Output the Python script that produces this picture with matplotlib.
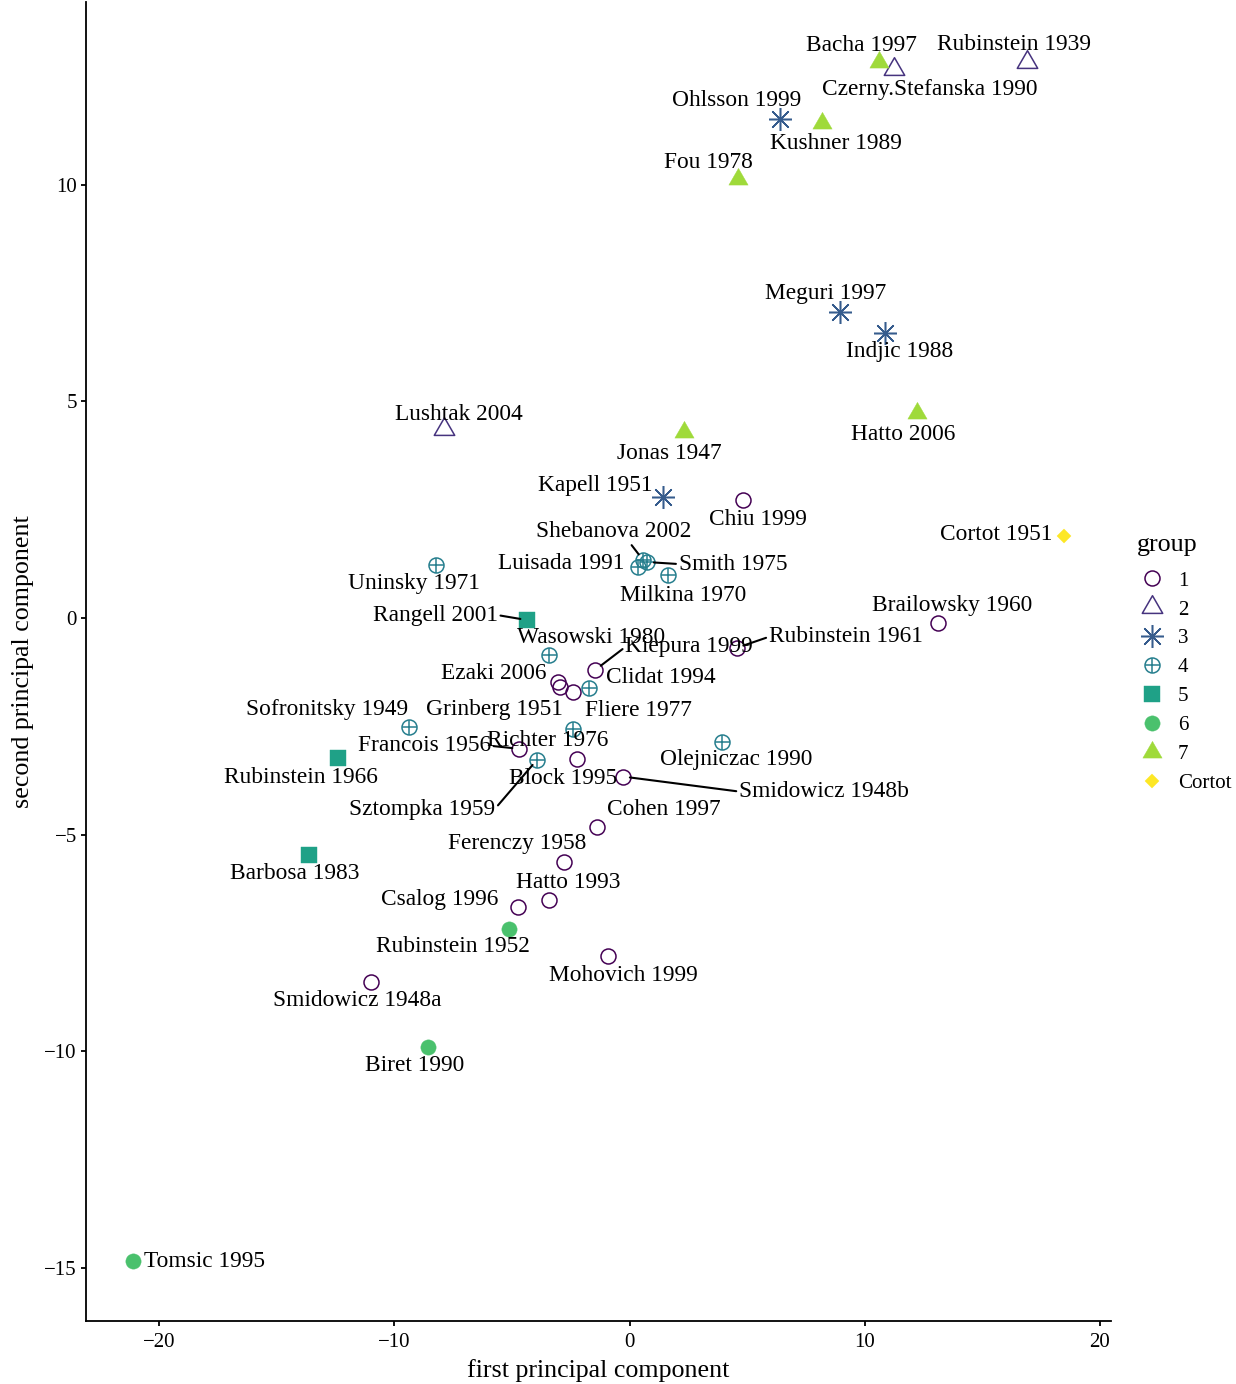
import matplotlib
matplotlib.use("Agg")
import matplotlib.pyplot as plt
from matplotlib.lines import Line2D
from matplotlib.path import Path
import numpy as np

plt.rcParams['font.family'] = ['Liberation Serif', 'DejaVu Serif']

# ---------------- data ----------------
performers = [
    "Bacha 1997", "Rubinstein 1939", "Czerny.Stefanska 1990", "Ohlsson 1999",
    "Kushner 1989", "Fou 1978", "Meguri 1997", "Indjic 1988", "Lushtak 2004",
    "Hatto 2006", "Jonas 1947", "Kapell 1951", "Chiu 1999", "Cortot 1951",
    "Shebanova 2002", "Luisada 1991", "Smith 1975", "Milkina 1970",
    "Uninsky 1971", "Brailowsky 1960", "Rangell 2001", "Wasowski 1980",
    "Kiepura 1999", "Rubinstein 1961", "Ezaki 2006", "Clidat 1994",
    "Sofronitsky 1949", "Grinberg 1951", "Fliere 1977", "Francois 1956",
    "Richter 1976", "Rubinstein 1966", "Olejniczac 1990", "Block 1995",
    "Smidowicz 1948b", "Sztompka 1959", "Cohen 1997", "Ferenczy 1958",
    "Barbosa 1983", "Hatto 1993", "Csalog 1996", "Rubinstein 1952",
    "Mohovich 1999", "Smidowicz 1948a", "Biret 1990", "Tomsic 1995",
]
group = [
    "7", "2", "2", "3",
    "7", "7", "3", "3", "2",
    "7", "7", "3", "1", "Cortot",
    "4", "4", "4", "4",
    "4", "1", "5", "4",
    "1", "1", "1", "4",
    "4", "1", "1", "1",
    "4", "5", "4", "1",
    "1", "4", "1", "1",
    "5", "1", "1", "6",
    "1", "1", "6", "6",
]
pc1 = [
    10.59, 16.88, 11.23, 6.39,
    8.17, 4.61, 8.94, 10.88, -7.88,
    12.21, 2.31, 1.42, 4.82, 18.49,
    0.57, 0.36, 0.74, 1.63,
    -8.22, 13.10, -4.35, -3.42,
    -1.46, 4.56, -3.04, -1.72,
    -9.36, -2.95, -2.40, -4.69,
    -2.40, -12.38, 3.93, -2.23,
    -0.28, -3.93, -1.38, -2.78,
    -13.65, -3.42, -4.73, -5.12,
    -0.91, -10.98, -8.56, -21.13,
]
pc2 = [
    12.83, 12.83, 12.67, 11.52,
    11.41, 10.14, 7.07, 6.57, 4.35,
    4.72, 4.29, 2.79, 2.72, 1.89,
    1.34, 1.18, 1.29, 0.99,
    1.22, -0.12, -0.05, -0.85,
    -1.20, -0.69, -1.47, -1.61,
    -2.51, -1.59, -1.71, -3.02,
    -2.56, -3.23, -2.86, -3.25,
    -3.66, -3.27, -4.82, -5.64,
    -5.48, -6.52, -6.66, -7.17,
    -7.81, -8.41, -9.91, -14.84,
]
group_levels = ["1", "2", "3", "4", "5", "6", "7", "Cortot"]
x_ticks = [-20, -10, 0, 10, 20]
y_ticks = [-15, -10, -5, 0, 5, 10]

# ---------------- layout (label placement, in pixels: dx, dy up) ----------------
label_offsets = {
    "Bacha 1997": (-17, 16), "Rubinstein 1939": (-13, 17),
    "Czerny.Stefanska 1990": (36, -21), "Ohlsson 1999": (-43, 18),
    "Kushner 1989": (14, -20), "Fou 1978": (-30, 16), "Meguri 1997": (-14, 18),
    "Indjic 1988": (14, -18), "Lushtak 2004": (15, 15), "Hatto 2006": (-14, -21),
    "Jonas 1947": (-15, -21), "Kapell 1951": (-68, 12), "Chiu 1999": (15, -19),
    "Cortot 1951": (-68, 2), "Shebanova 2002": (-29, 28), "Luisada 1991": (-77, 3),
    "Smith 1975": (86, -2), "Milkina 1970": (15, -20), "Uninsky 1971": (-22, -18),
    "Brailowsky 1960": (14, 18), "Rangell 2001": (-92, 5), "Wasowski 1980": (42, 17),
    "Kiepura 1999": (94, 23), "Rubinstein 1961": (109, 11), "Ezaki 2006": (-64, 8),
    "Clidat 1994": (72, 10), "Sofronitsky 1949": (-82, 17), "Grinberg 1951": (-66, -23),
    "Fliere 1977": (65, -18), "Francois 1956": (-95, 3), "Richter 1976": (-25, -12),
    "Rubinstein 1966": (-37, -20), "Olejniczac 1990": (14, -18), "Block 1995": (-14, -20),
    "Smidowicz 1948b": (201, -15), "Sztompka 1959": (-115, -50), "Cohen 1997": (67, 17),
    "Ferenczy 1958": (-47, 19), "Barbosa 1983": (-14, -18), "Hatto 1993": (19, 18),
    "Csalog 1996": (-79, 7), "Rubinstein 1952": (-56, -18), "Mohovich 1999": (15, -19),
    "Smidowicz 1948a": (-14, -18), "Biret 1990": (-14, -18), "Tomsic 1995": (72, 0),
}
# labels joined to their point by a segment, with the anchor on the label box
segment_anchor = {
    "Shebanova 2002": (0.6, 0.0), "Smith 1975": (0.0, 0.5), "Rangell 2001": (1.0, 0.5),
    "Kiepura 1999": (0.0, 0.5), "Rubinstein 1961": (0.0, 0.5),
    "Francois 1956": (1.0, 0.5), "Smidowicz 1948b": (0.0, 0.5),
    "Sztompka 1959": (1.0, 0.55),
}

colors = dict(zip(group_levels, ['#440154', '#46337E', '#365C8D', '#277F8E',
                                 '#1FA187', '#4AC16D', '#9FDA3A', '#FDE725']))
tri = Path([(0, 1), (-0.866, -0.5), (0.866, -0.5), (0, 1)], closed=True)

def style(g):
    c = colors[g]
    if g == "1":
        return [dict(marker='o', ms=10.8, mfc='none', mec=c, mew=1.1)]
    if g == "2":
        return [dict(marker=tri, ms=17, mfc='none', mec=c, mew=1.1)]
    if g == "3":
        return [dict(marker=(8, 2, 0), ms=16.5, mfc=c, mec=c, mew=1.1)]
    if g == "4":
        return [dict(marker='o', ms=10.8, mfc='none', mec=c, mew=1.1),
                dict(marker='+', ms=10.8, mfc='none', mec=c, mew=1.1)]
    if g == "5":
        return [dict(marker='s', ms=11.5, mfc=c, mec=c, mew=0.3)]
    if g == "6":
        return [dict(marker='o', ms=11, mfc=c, mec=c, mew=0.3)]
    if g == "7":
        return [dict(marker=tri, ms=16, mfc=c, mec=c, mew=0.3)]
    return [dict(marker='D', ms=7.5, mfc=c, mec=c, mew=0.3)]

# ---------------- figure ----------------
fig = plt.figure(figsize=(12.36, 13.84), dpi=100)
ax = fig.add_axes([86 / 1236, 1 - 1321 / 1384, (1111 - 86) / 1236, (1321 - 2) / 1384])

x = np.array(pc1)
y = np.array(pc2)
g_arr = np.array(group)

for g in group_levels:
    m = g_arr == g
    for st in style(g):
        ax.plot(x[m], y[m], linestyle='none', zorder=3, **st)

for name, xi, yi in zip(performers, pc1, pc2):
    dx, dy = label_offsets[name]
    kw = {}
    if name in segment_anchor:
        kw['arrowprops'] = dict(arrowstyle='-', color='black', lw=1.5,
                                shrinkA=0, shrinkB=5, relpos=segment_anchor[name])
    ax.annotate(name, xy=(xi, yi), xytext=(dx, dy), textcoords='offset pixels',
                ha='center', va='center', fontsize=16.8, color='black', zorder=4, **kw)

xr = x.max() - x.min()
yr = y.max() - y.min()
ax.set_xlim(x.min() - 0.05 * xr, x.max() + 0.05 * xr)
ax.set_ylim(y.min() - 0.05 * yr, y.max() + 0.05 * yr)
ax.set_xticks(x_ticks)
ax.set_yticks(y_ticks)

for s in ['top', 'right']:
    ax.spines[s].set_visible(False)
for s in ['left', 'bottom']:
    ax.spines[s].set_linewidth(1.3)
    ax.spines[s].set_color('black')
ax.tick_params(axis='both', length=3.6, width=1.3, color='black', labelsize=15,
               labelcolor='black', pad=3)
ax.tick_params(axis='x', pad=5)
ax.set_xlabel('first principal component', fontsize=18.7, labelpad=5)
ax.set_ylabel('second principal component', fontsize=18.7, labelpad=7)

handles = []
for g in group_levels:
    hs = tuple(Line2D([], [], linestyle='none', **st) for st in style(g))
    handles.append(hs if len(hs) > 1 else hs[0])

fig.text(1137 / 1236, 1 - 545 / 1384, 'group', fontsize=18.7,
         ha='left', va='center')
fig.legend(handles, group_levels, loc='upper left',
           bbox_to_anchor=(1137 / 1236, 1 - 571 / 1384), frameon=False,
           fontsize=15.1, alignment='left',
           handlelength=1.4, handletextpad=0.55, labelspacing=0.44,
           borderpad=0, borderaxespad=0)

fig.savefig('out.png', dpi=100)
